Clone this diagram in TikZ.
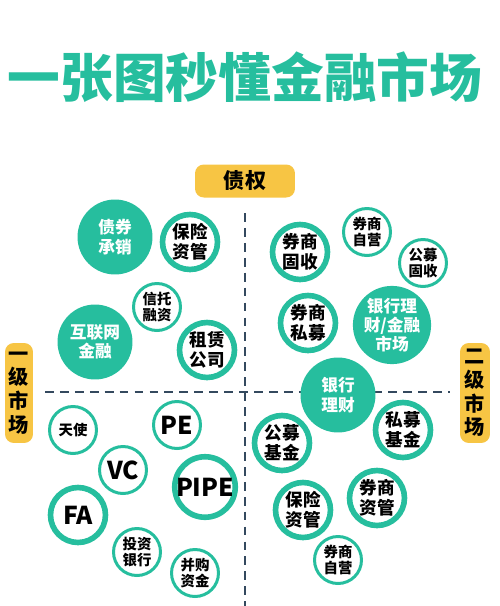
\documentclass[tikz,border=0pt]{standalone}
\usepackage{fontspec}
\setmainfont{Noto Sans CJK SC}
\usepackage{xcolor}
\usetikzlibrary{positioning}

\definecolor{teal1}{HTML}{26BE9E}
\definecolor{gold1}{HTML}{F7C544}
\definecolor{axis1}{HTML}{34495E}

\begin{document}
\begin{tikzpicture}[x=0.02cm,y=-0.02cm,
                    big/.style={circle,fill=teal1,minimum size=1.5cm,inner sep=0pt,
                                text=white,font=\fontsize{9.5}{11}\selectfont\bfseries,align=center},
                    thick ring/.style={circle,draw=teal1,line width=3.2pt,fill=white,minimum size=1.1cm,
                                inner sep=0pt,font=\fontsize{10}{11.5}\selectfont\bfseries,align=center},
                    thin ring/.style={circle,draw=teal1,line width=1.7pt,fill=white,minimum size=0.94cm,
                                inner sep=0pt,font=\fontsize{8.2}{9.5}\selectfont\bfseries,align=center},
                    latin/.style={font=\fontsize{14}{16}\selectfont\bfseries},
                    tag/.style={fill=gold1,rounded corners=5pt,inner sep=0pt,
                                font=\fontsize{12}{13}\selectfont\bfseries},
                    axis/.style={axis1,line width=1.4pt,dash pattern=on 5pt off 3.5pt}]
    \useasboundingbox (0,0) rectangle (500,606);

    % title
    \node[text=teal1,font=\fontsize{30}{32}\selectfont\bfseries] (title) at (245,77) {一张图秒懂金融市场};

    % axes
    \coordinate (vtop) at (245,213);
    \coordinate (vbot) at (245,606);
    \coordinate (hl) at (45,392);
    \coordinate (hr) at (450,392);
    \draw[axis] (vtop) -- (vbot);
    \draw[axis] (hl) -- (hr);

    % tags
    \node[tag,minimum width=2cm,minimum height=0.66cm] (debt) at (245,181) {债权};
    \node[tag,minimum width=0.56cm,minimum height=2cm,align=center,
          font=\fontsize{11.5}{13.5}\selectfont\bfseries] (primary) at (19,393) {一\\级\\市\\场};
    \node[tag,minimum width=0.6cm,minimum height=2cm,align=center,
          font=\fontsize{11.5}{13.5}\selectfont\bfseries] (secondary) at (475,393) {二\\级\\市\\场};

    % upper left
    \node[big] (uw) at (115,237) {债券\\承销};
    \node[thick ring] (ins1) at (190,242) {保险\\资管};
    \node[thin ring] (trust) at (157,307) {信托\\融资};
    \node[big] (web) at (95,342) {互联网\\金融};
    \node[thick ring] (lease) at (207,350) {租赁\\公司};

    % upper right
    \node[thick ring] (bfix) at (300,252) {券商\\固收};
    \node[thin ring] (prop1) at (367,232) {券商\\自营};
    \node[thin ring] (ffix) at (423,263) {公募\\固收};
    \node[thick ring] (bpriv) at (308,323) {券商\\私募};
    \node[big] (bank1) at (392,325) {银行理\\财/金融\\市场};

    % lower right
    \node[big] (bank2) at (338,395) {银行\\理财};
    \node[thick ring] (pfund) at (403,430) {私募\\基金};
    \node[thick ring] (mfund) at (282,443) {公募\\基金};
    \node[thick ring] (ins2) at (303,510) {保险\\资管};
    \node[thick ring] (bam) at (377,498) {券商\\资管};
    \node[thin ring] (prop2) at (338,560) {券商\\自营};

    % lower left
    \node[thin ring] (angel) at (73,430) {天使};
    \node[thin ring,latin] (pe) at (177,425) {PE};
    \node[thin ring,latin] (vc) at (123,470) {VC};
    \node[thick ring,latin] (pipe) at (205,487) {PIPE};
    \node[thick ring,latin] (fa) at (78,515) {FA};
    \node[thin ring] (ib) at (137,552) {投资\\银行};
    \node[thin ring] (ma) at (195,573) {并购\\资金};
\end{tikzpicture}
\end{document}
